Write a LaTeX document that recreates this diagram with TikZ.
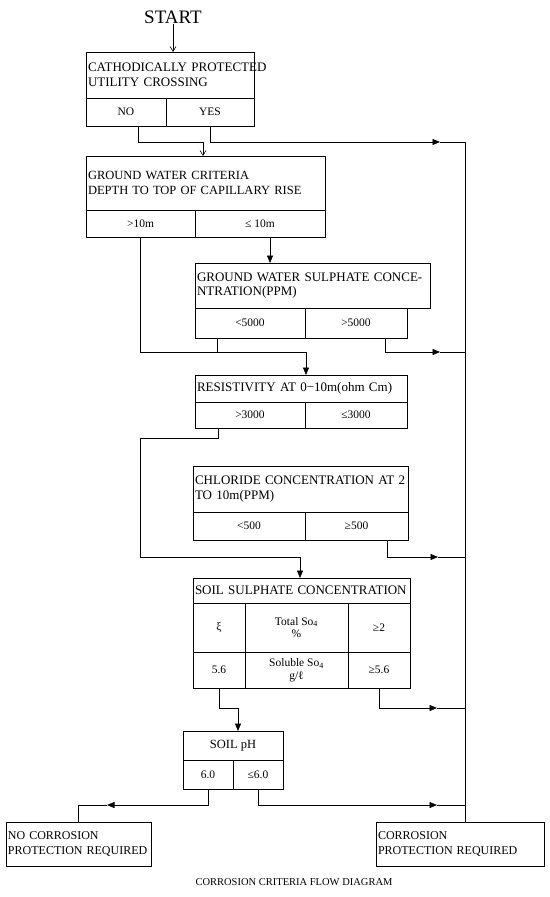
\documentclass[tikz,border=0pt]{standalone}
\usepackage{fontspec}
\setmainfont{Liberation Serif}
\usetikzlibrary{arrows.meta}
\begin{document}
\begin{tikzpicture}[x=1pt,y=-1pt,line width=0.6pt,
  cell/.style={draw, anchor=north west, inner sep=0pt, outer sep=0pt},
  hdr/.style={cell, align=left, inner xsep=2pt, font=\fontsize{13}{14.5}\selectfont},
  opt/.style={cell, align=center, font=\fontsize{11.5}{12.5}\selectfont},
  res/.style={hdr, font=\fontsize{12}{15}\selectfont},
  tip/.style={-{Triangle[length=7.5pt,width=6pt]}},
  vtip/.style={-{Straight Barb[length=5pt,width=6pt]}},
]
\useasboundingbox (0,0) rectangle (549,897);

% START
\node[font=\fontsize{19}{21}\selectfont, inner sep=0pt] (start) at (173,17) {START};

% Box 1
\node[hdr, minimum width=168pt, minimum height=46pt, text width=164pt] (c1) at (86,52)
  {\mbox{CATHODICALLY PROTECTED}\\UTILITY CROSSING};
\node[opt, minimum width=80pt, minimum height=28pt] (no) at (86,98) {NO};
\node[opt, minimum width=88pt, minimum height=28pt] (yes) at (166,98) {YES};

% Ground water criteria
\node[hdr, font=\fontsize{12.5}{14.5}\selectfont, minimum width=239pt, minimum height=54pt, text width=235pt] (gw) at (86,156)
  {GROUND WATER CRITERIA\\\mbox{DEPTH TO TOP OF CAPILLARY RISE}};
\node[opt, minimum width=109pt, minimum height=27pt] (gwa) at (86,210) {>10m};
\node[opt, minimum width=130pt, minimum height=27pt] (gwb) at (195,210) {≤ 10m};

% Ground water sulphate
\node[hdr, minimum width=235pt, minimum height=45pt, text width=231pt] (gws) at (195,263)
  {\mbox{GROUND WATER SULPHATE CONCE-}\\NTRATION(PPM)};
\node[opt, minimum width=110pt, minimum height=30pt] (gwsa) at (195,308) {<5000};
\node[opt, minimum width=102pt, minimum height=30pt] (gwsb) at (305,308) {>5000};

% Resistivity
\node[hdr, minimum width=212pt, minimum height=27pt, text width=208pt] (res) at (195,375)
  {\mbox{RESISTIVITY AT 0−10m(ohm Cm)}};
\node[opt, minimum width=110pt, minimum height=26pt] (resa) at (195,402) {>3000};
\node[opt, minimum width=102pt, minimum height=26pt] (resb) at (305,402) {≤3000};

% Chloride
\node[hdr, minimum width=215pt, minimum height=46pt, text width=211pt] (chl) at (193,466)
  {\mbox{CHLORIDE CONCENTRATION AT 2}\\TO 10m(PPM)};
\node[opt, minimum width=112pt, minimum height=28pt] (chla) at (193,512) {<500};
\node[opt, minimum width=103pt, minimum height=28pt] (chlb) at (305,512) {≥500};

% Soil sulphate
\node[hdr, minimum width=217pt, minimum height=25pt, text width=213pt] (ss) at (193,578)
  {\mbox{SOIL SULPHATE CONCENTRATION}};
\node[opt, minimum width=52pt, minimum height=49pt] (ssa1) at (193,603) {ξ};
\node[opt, minimum width=103pt, minimum height=49pt] (ssb1) at (245,603) {Total So\textsubscript{4}\\\%};
\node[opt, minimum width=62pt, minimum height=49pt] (ssc1) at (348,603) {≥2};
\node[opt, minimum width=52pt, minimum height=36pt] (ssa2) at (193,652) {5.6};
\node[opt, minimum width=103pt, minimum height=36pt] (ssb2) at (245,652) {Soluble So\textsubscript{4}\\g/ℓ};
\node[opt, minimum width=62pt, minimum height=36pt] (ssc2) at (348,652) {≥5.6};

% Soil pH
\node[opt, font=\fontsize{12.5}{14}\selectfont, minimum width=100pt, minimum height=29pt] (ph) at (183,731) {SOIL pH};
\node[opt, minimum width=50pt, minimum height=29pt] (pha) at (183,760) {6.0};
\node[opt, minimum width=50pt, minimum height=29pt] (phb) at (233,760) {≤6.0};

% Results
\node[res, minimum width=145pt, minimum height=44pt, text width=141pt] (nc) at (6,822)
  {NO CORROSION\\\mbox{PROTECTION REQUIRED}};
\node[res, minimum width=168pt, minimum height=44pt, text width=164pt] (cp) at (376,822)
  {CORROSION\\\mbox{PROTECTION REQUIRED}};

% caption
\node[font=\fontsize{10.5}{12}\selectfont, inner sep=0pt] (cap) at (294,882) {CORROSION CRITERIA FLOW DIAGRAM};

% helper coordinates
\coordinate (xno) at (138,0);
\coordinate (k1) at (203,142);
\coordinate (ayes) at (440,142);
\coordinate (rt) at (465,142);
\coordinate (x270) at (270,0);
\coordinate (m1) at (306,352);
\coordinate (x217) at (217,0);
\coordinate (x385) at (385,352);
\coordinate (a2) at (440,352);
\coordinate (p1) at (218,438);
\coordinate (p3) at (140.5,557);
\coordinate (p4) at (300,557);
\coordinate (x387) at (387,557);
\coordinate (a3) at (438,557);
\coordinate (q1) at (238,708);
\coordinate (a4) at (437,708);
\coordinate (a5) at (107,805);
\coordinate (a6) at (437,805);

% connectors
\draw[vtip] (start.south) -- (start.south |- c1.north);
\draw[vtip] (no.south -| xno) |- (k1) -- (k1 |- gw.north);
\draw[tip] (yes.south) |- (ayes);
\draw (ayes) -- (rt);
\draw (rt) -- (rt |- cp.north);

\draw[tip] (gwb.south -| x270) -- (x270 |- gws.north);
\draw[tip] (gwa.south) |- (m1) -- (m1 |- res.north);
\draw (gwsa.south -| x217) -- (x217 |- m1);
\draw[tip] (gwsb.south -| x385) |- (a2);
\draw (a2) -- (a2 -| rt);

\draw[tip] (resa.south -| p1) -- (p1) -| (p3) -- (p4) -- (p4 |- ss.north);
\draw[tip] (chlb.south -| x387) |- (a3);
\draw (a3) -- (a3 -| rt);

\draw[tip] (ssa2.south) |- (q1) -- (q1 |- ph.north);
\draw[tip] (ssc2.south) |- (a4);
\draw (a4) -- (a4 -| rt);

\draw[tip] (pha.south) |- (a5);
\draw (a5) -| (nc.north);
\draw[tip] (phb.south) |- (a6);
\draw (a6) -- (a6 -| rt);
\end{tikzpicture}
\end{document}
